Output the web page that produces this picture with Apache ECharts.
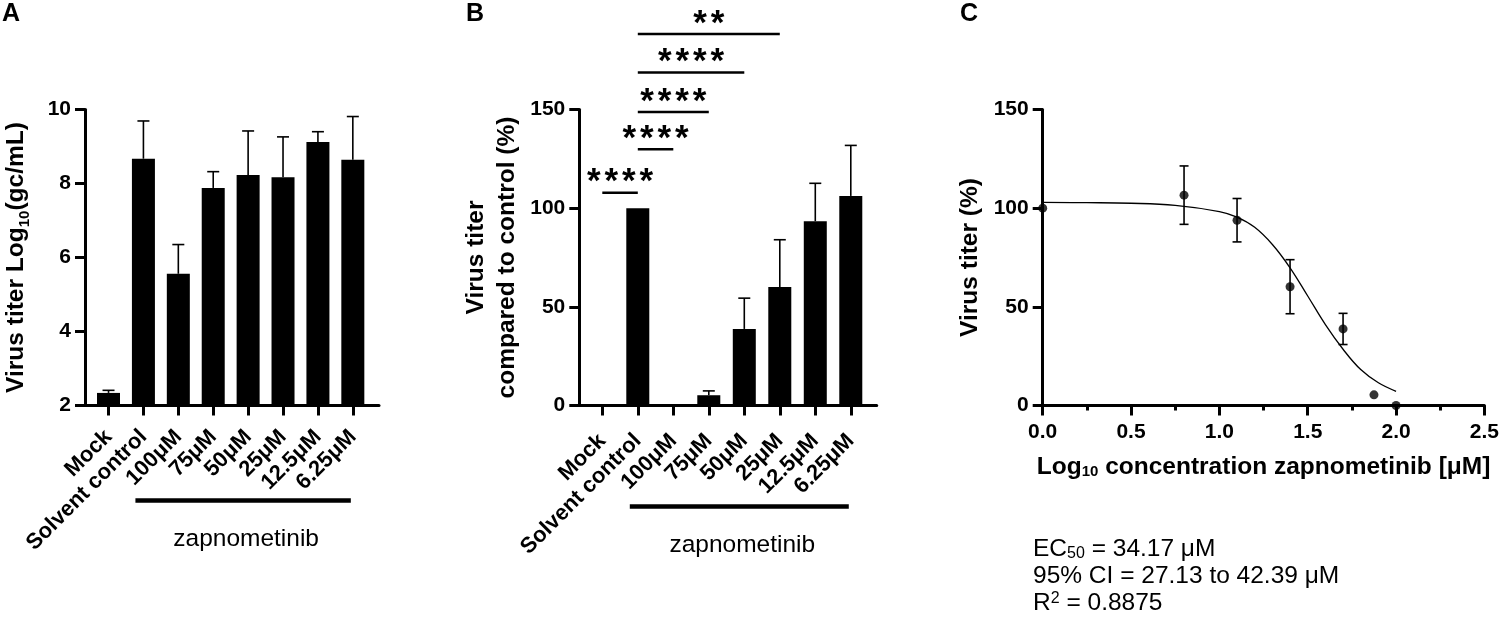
<!DOCTYPE html>
<html>
<head>
<meta charset="utf-8">
<script src="https://cdn.jsdelivr.net/npm/echarts@6/dist/echarts.min.js"></script>
<style>
  html, body { margin: 0; padding: 0; background: #fff; }
  #chart { width: 1502px; height: 619px; }
</style>
</head>
<body>
<div id="chart"></div>
<script>
// categories shared by panels A and B
const categories = ['Mock', 'Solvent control', '100μM', '75μM', '50μM', '25μM', '12.5μM', '6.25μM'];

// panel A: virus titer, log10 gc/mL
const titerLog = [2.34, 8.67, 5.56, 7.88, 8.23, 8.17, 9.12, 8.64];
const titerLogErr = [0.07, 1.02, 0.79, 0.44, 1.19, 1.09, 0.28, 1.17];

// panel B: % of solvent control
const titerPct = [0, 100, 0, 5.2, 38.8, 60.0, 93.4, 106.2];
const titerPctErr = [0, 0, 0, 2.2, 15.6, 24.0, 19.2, 25.6];

// panel B: significance brackets (category index from/to, height, stars)
const sigFrom = [0, 1, 1, 1, 1];
const sigTo = [1, 2, 3, 4, 5];
const sigY = [107.8, 129.9, 148.7, 168.7, 188.3];
const sigLabel = ['****', '****', '****', '****', '**'];

// treated group underline (category index range)
const groupFrom = 1;
const groupTo = 7;
const groupName = 'zapnometinib';

// panel C: dose response
const logConc = [0, 0.8, 1.1, 1.4, 1.7, 1.875, 2.0];
const pctMean = [100, 106.6, 93.9, 60.2, 38.8, 5.4, 0];
const pctErr = [0, 14.8, 11.0, 13.7, 7.9, 0, 0];

// fitted curve
const fitX = [0, 0.25, 0.5, 0.75, 1.0, 1.1, 1.2, 1.3, 1.4, 1.5, 1.6, 1.7, 1.8, 1.9, 2.0];
const fitY = [102.9, 102.8, 102.5, 101.4, 98.3, 95.5, 90.3, 81.6, 69.8, 55.5, 41.0, 28.5, 18.2, 11.5, 7.2];

const fitStats = ['{n|EC}{sub|50}{n| = 34.17 μM}', '{n|95% CI = 27.13 to 42.39 μM}', '{n|R}{sup|2}{n| = 0.8875}'];

const yTicksA = [2, 10, 2];   // min, max, interval
const yTicksPct = [0, 150, 50];

const FONT = "'Liberation Sans', Arial, sans-serif";
const catIdx = categories.map((c, i) => i);

const chart = echarts.init(document.getElementById('chart'));

const axisLine = { show: true, onZero: false, lineStyle: { color: '#000', width: 3 } };
const axisTick = { show: true, length: 10, lineStyle: { color: '#000', width: 3 } };
const tickLabel = { color: '#000', fontFamily: FONT, fontWeight: 'bold', fontSize: 21 };
const subRich = { fontFamily: FONT, fontWeight: 'bold', fontSize: 15, verticalAlign: 'bottom', color: '#000' };

function catXAxis(grid, min, max, margin) {
  return {
    type: 'value', gridIndex: grid, min: min, max: max,
    axisLine: axisLine,
    axisTick: Object.assign({ customValues: catIdx }, axisTick),
    axisLabel: Object.assign({}, tickLabel, {
      customValues: catIdx, rotate: 45, fontSize: 22, margin: margin,
      formatter: v => categories[Math.round(v)]
    }),
    splitLine: { show: false }
  };
}

function valYAxis(grid, t, name, gap) {
  return {
    type: 'value', gridIndex: grid, min: t[0], max: t[1], interval: t[2],
    axisLine: axisLine, axisTick: axisTick,
    axisLabel: Object.assign({ margin: 14 }, tickLabel),
    splitLine: { show: false },
    name: name, nameLocation: 'middle', nameGap: gap,
    nameTextStyle: {
      color: '#000', fontFamily: FONT, fontWeight: 'bold', fontSize: 24.5, lineHeight: 31,
      rich: { sub: subRich }
    }
  };
}

function errBar(capHalf, both) {
  return function (params, api) {
    const x = api.value(0), m = api.value(1), e = api.value(2);
    const top = api.coord([x, m + e]);
    const bot = api.coord([x, both ? m - e : m]);
    const st = { stroke: '#000', lineWidth: 1.6 };
    const kids = [
      { type: 'line', shape: { x1: top[0], y1: top[1], x2: bot[0], y2: bot[1] }, style: st },
      { type: 'line', shape: { x1: top[0] - capHalf, y1: top[1], x2: top[0] + capHalf, y2: top[1] }, style: st }
    ];
    if (both) kids.push({ type: 'line', shape: { x1: bot[0] - capHalf, y1: bot[1], x2: bot[0] + capHalf, y2: bot[1] }, style: st });
    return { type: 'group', children: kids };
  };
}

function groupLine(lineOff, textOff) {
  return function (params, api) {
    const a = api.coord([api.value(0), api.value(2)]);
    const b = api.coord([api.value(1), api.value(2)]);
    const y = a[1] + lineOff;
    return {
      type: 'group', children: [
        { type: 'line', shape: { x1: a[0] - 8, y1: y, x2: b[0] - 2, y2: y }, style: { stroke: '#000', lineWidth: 4.5 } },
        { type: 'text', style: { text: groupName, x: (a[0] + b[0]) / 2 - 2, y: a[1] + textOff, align: 'center', verticalAlign: 'middle', fontFamily: FONT, fontSize: 24.5, fill: '#000' } }
      ]
    };
  };
}

function sigRender(params, api) {
  const i = params.dataIndex;
  const a = api.coord([api.value(0), api.value(2)]);
  const b = api.coord([api.value(1), api.value(2)]);
  const n = sigLabel[i].length;
  const mid = (a[0] + b[0]) / 2;
  const kids = [{ type: 'line', shape: { x1: a[0], y1: a[1], x2: b[0], y2: b[1] }, style: { stroke: '#000', lineWidth: 2.5 } }];
  for (let k = 0; k < n; k++) {
    kids.push({ type: 'text', style: { text: '*', x: mid + (k - (n - 1) / 2) * 17.5, y: a[1] - 10, align: 'center', verticalAlign: 'middle', fontFamily: FONT, fontWeight: 'bold', fontSize: 35, fill: '#000' } });
  }
  return { type: 'group', children: kids };
}

const panelLetter = (t, x) => ({ type: 'text', left: x, top: 2, style: { text: t, fontFamily: FONT, fontWeight: 'bold', fontSize: 25, fill: '#000' } });
const statStyle = { fontFamily: FONT, fontSize: 24.5, fill: '#000', rich: {
  n: { fontFamily: FONT, fontSize: 24.5, color: '#000' },
  sub: { fontFamily: FONT, fontSize: 16, color: '#000', verticalAlign: 'bottom' },
  sup: { fontFamily: FONT, fontSize: 16, color: '#000', verticalAlign: 'top' }
} };

chart.setOption({
  animation: false,
  backgroundColor: '#fff',
  grid: [
    { left: 79, top: 109.5, width: 300, height: 296 },
    { left: 579.3, top: 109.5, width: 297.4, height: 296 },
    { left: 1042.7, top: 109.5, width: 444.6, height: 296 }
  ],
  xAxis: [
    catXAxis(0, -0.674, 7.75, 28),
    catXAxis(1, -0.648, 7.73, 32),
    {
      type: 'value', gridIndex: 2, min: 0, max: 2.5, interval: 0.5,
      axisLine: axisLine, axisTick: axisTick,
      minorTick: { show: true, splitNumber: 2, length: 5, lineStyle: { color: '#000', width: 3 } },
      axisLabel: Object.assign({ margin: 16, formatter: v => v.toFixed(1) }, tickLabel),
      splitLine: { show: false }, minorSplitLine: { show: false },
      name: 'Log{sub|10} concentration zapnometinib [μM]', nameLocation: 'middle', nameGap: 49,
      nameTextStyle: { color: '#000', fontFamily: FONT, fontWeight: 'bold', fontSize: 24.5, rich: { sub: subRich } }
    }
  ],
  yAxis: [
    valYAxis(0, yTicksA, 'Virus titer Log{sub|10}(gc/mL)', 53),
    valYAxis(1, yTicksPct, 'Virus titer\ncompared to control (%)', 57),
    valYAxis(2, yTicksPct, 'Virus titer (%)', 57)
  ],
  graphic: [
    panelLetter('A', 2),
    panelLetter('B', 466),
    panelLetter('C', 960)
  ].concat(fitStats.map((t, i) => ({
    type: 'text', left: 1033, top: 537 + i * 27, style: Object.assign({ text: t }, statStyle)
  }))),
  series: [
    {
      type: 'bar', xAxisIndex: 0, yAxisIndex: 0, barWidth: 23,
      itemStyle: { color: '#000' },
      data: titerLog.map((v, i) => [i, v])
    },
    {
      type: 'custom', xAxisIndex: 0, yAxisIndex: 0, renderItem: errBar(6, false), clip: false,
      data: titerLog.map((v, i) => [i, v, titerLogErr[i]])
    },
    {
      type: 'custom', xAxisIndex: 0, yAxisIndex: 0, renderItem: groupLine(95, 134), clip: false,
      data: [[groupFrom, groupTo, yTicksA[0]]]
    },
    {
      type: 'bar', xAxisIndex: 1, yAxisIndex: 1, barWidth: 23,
      itemStyle: { color: '#000' },
      data: titerPct.map((v, i) => [i, v])
    },
    {
      type: 'custom', xAxisIndex: 1, yAxisIndex: 1, renderItem: errBar(6, false), clip: false,
      data: titerPct.map((v, i) => [i, v, titerPctErr[i]]).filter(d => d[2] > 0)
    },
    {
      type: 'custom', xAxisIndex: 1, yAxisIndex: 1, renderItem: sigRender, clip: false,
      data: sigFrom.map((f, i) => [f, sigTo[i], sigY[i]])
    },
    {
      type: 'custom', xAxisIndex: 1, yAxisIndex: 1, renderItem: groupLine(101, 140), clip: false,
      data: [[groupFrom, groupTo, yTicksPct[0]]]
    },
    {
      type: 'line', xAxisIndex: 2, yAxisIndex: 2, smooth: 0.4, symbol: 'none', clip: false,
      lineStyle: { color: '#000', width: 1.3 },
      data: fitX.map((x, i) => [x, fitY[i]])
    },
    {
      type: 'custom', xAxisIndex: 2, yAxisIndex: 2, renderItem: errBar(4.5, true), clip: false,
      data: logConc.map((x, i) => [x, pctMean[i], pctErr[i]]).filter(d => d[2] > 0)
    },
    {
      type: 'scatter', xAxisIndex: 2, yAxisIndex: 2, symbolSize: 9, clip: false, z: 5,
      itemStyle: { color: '#000' },
      data: logConc.map((x, i) => [x, pctMean[i]])
    }
  ]
});
</script>
</body>
</html>
